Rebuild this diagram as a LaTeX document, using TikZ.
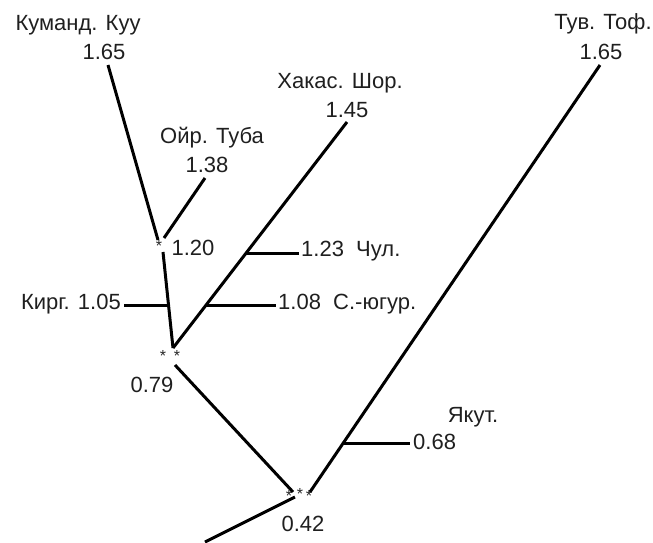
\documentclass[tikz,border=0pt]{standalone}
\usepackage{fontspec}
\setmainfont{Liberation Sans}
\begin{document}
\begin{tikzpicture}[x=1pt,y=-1pt,
  branch/.style={line width=3pt, line cap=butt},
  lbl/.style={font=\fontsize{22}{24}\selectfont, text=black!88, inner sep=0pt},
  star/.style={font=\fontsize{16}{16}\selectfont, text=black!85, inner sep=0pt}]
\useasboundingbox (0,0) rectangle (653,542);

% leaf labels
\node[lbl] (kum)  at (78,25)   {Куманд. Куу};
\node[lbl] (kumv) at (104,52)  {1.65};
\node[lbl] (oir)  at (212,138) {Ойр. Туба};
\node[lbl] (oirv) at (207,165) {1.38};
\node[lbl] (kha)  at (340,83)  {Хакас. Шор.};
\node[lbl] (khav) at (347,110) {1.45};
\node[lbl] (tuv)  at (603,24)  {Тув. Тоф.};
\node[lbl] (tuvv) at (601,52)  {1.65};
\node[lbl, anchor=west] (chul) at (301,251) {1.23\ \ Чул.};
\node[lbl, anchor=west] (syug) at (278,304) {1.08\ \ С.-югур.};
\node[lbl, anchor=east] (kirg) at (121,304) {Кирг. 1.05};
\node[lbl] (yak)  at (473,417) {Якут.};
\node[lbl, anchor=west] (yakv) at (413,442) {0.68};

% internal node labels
\node[star] (s1)  at (159,246) {*};
\node[lbl]  (n1)  at (193,248) {1.20};
\node[star] (s2a) at (163,356) {*};
\node[star] (s2b) at (177,356) {*};
\node[lbl]  (n2)  at (152,385) {0.79};
\node[star] (s3a) at (289,496) {*};
\node[star] (s3b) at (300,494) {*};
\node[star] (s3c) at (309,496) {*};
\node[lbl]  (n3)  at (303,524) {0.42};

% branch end points
\coordinate (kumE) at (108,65);
\coordinate (kumJ) at (158,240);
\coordinate (oirE) at (205,178);
\coordinate (oirJ) at (164,238);
\coordinate (a1)   at (163,252);
\coordinate (a2)   at (173,348);
\coordinate (kirgE) at (124,305);
\coordinate (kirgJ) at (168,305);
\coordinate (khaE) at (347,122);
\coordinate (chulJ) at (246,253);
\coordinate (chulE) at (299,253);
\coordinate (syugJ) at (206,305);
\coordinate (syugE) at (276,305);
\coordinate (b1)   at (175,365);
\coordinate (b2)   at (293,492);
\coordinate (c1)   at (310,492);
\coordinate (tuvE) at (600,65);
\coordinate (yakJ) at (343,443);
\coordinate (yakE) at (410,443);
\coordinate (r1)   at (295,497);
\coordinate (r2)   at (205,542);

% branches
\draw[branch] (kumE) -- (kumJ);
\draw[branch] (oirE) -- (oirJ);
\draw[branch] (a1) -- (a2);
\draw[branch] (kirgE) -- (kirgJ);
\draw[branch] (khaE) -- (a2);
\draw[branch] (chulJ) -- (chulE);
\draw[branch] (syugJ) -- (syugE);
\draw[branch] (b1) -- (b2);
\draw[branch] (c1) -- (tuvE);
\draw[branch] (yakJ) -- (yakE);
\draw[branch] (r1) -- (r2);
\end{tikzpicture}
\end{document}
